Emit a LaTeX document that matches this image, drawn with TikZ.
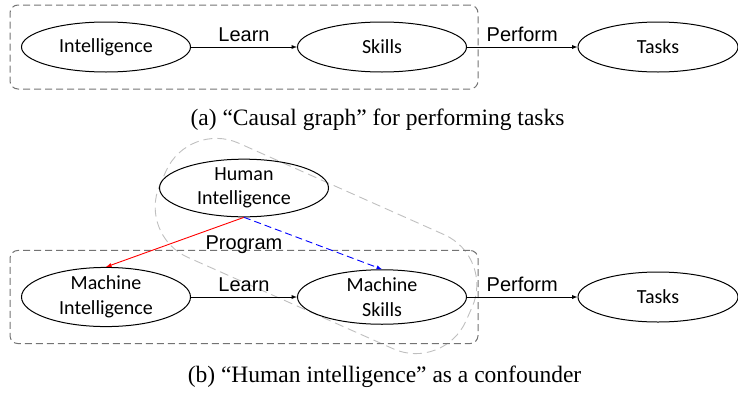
\documentclass[tikz,border=0pt]{standalone}
\usepackage{fontspec}
\setmainfont{Liberation Serif}
\newfontfamily\calibri{Carlito}
\newfontfamily\arial{Liberation Sans}
\usetikzlibrary{positioning,fit,shapes.geometric}

\tikzset{
  estilo grafo/.style={
      x=1pt, y=1pt,
      node distance=276pt,
      nodo/.style={ellipse, draw, line width=1pt, minimum width=169pt, minimum height=50pt,
          inner sep=0pt, align=center, font={\calibri\fontsize{20}{24.5}\selectfont}},
      causa/.style={-latex, line width=0.9pt},
      etiqueta/.style={inner sep=5pt, font={\arial\fontsize{20}{24}\selectfont}},
      grupo/.style={draw=black!55, line width=1pt, dash pattern=on 7pt off 4pt, rounded corners=8pt,
          inner xsep=11pt, inner ysep=16.5pt},
      confusor/.style={draw=black!25, line width=0.9pt, dash pattern=on 9pt off 5pt, rounded corners=55pt,
          minimum width=335pt, minimum height=125pt, rotate=-24},
      leyenda/.style={anchor=base, font={\fontsize{23.5}{28}\selectfont}},
    },
}

\begin{document}
\begin{tikzpicture}[estilo grafo]
  \useasboundingbox (0,0) rectangle (738,-394);

  % (a) intelligence -> skills -> tasks
  \node[nodo] (intel) at (106,-47) {Intelligence};
  \node[nodo, right of=intel] (hab) {Skills};
  \node[nodo, right of=hab, minimum width=160pt] (tareas) {Tasks};
  \node[grupo, fit=(intel)(hab)] (caja) {};

  \draw[causa] (intel) -- node[etiqueta, above] {Learn} (hab);
  \draw[causa] (hab) -- node[etiqueta, above] {Perform} (tareas);
  \node[leyenda] (cap a) at (377.5,-125) {(a) “Causal graph” for performing tasks};

  % (b) human intelligence as confounder
  \node[confusor] (conf) at (316,-246) {};
  \node[nodo] (humana) at (244,-188) {Human\\Intelligence};
  \node[nodo, below of=intel, node distance=250pt] (mintel) {Machine\\Intelligence};
  \node[nodo, right of=mintel] (mhab) {Machine\\Skills};
  \node[nodo, right of=mhab, minimum width=160pt] (mtareas) {Tasks};
  \node[grupo, fit=(mintel)(mhab)] (mcaja) {};
  \node[etiqueta, below=13pt of humana] (prog) {Program};

  \draw[causa, red] (humana.south) -- (mintel.north);
  \draw[causa, blue, dash pattern=on 7pt off 4pt] (humana.south) -- (mhab.north);
  \draw[causa] (mintel) -- node[etiqueta, above] {Learn} (mhab);
  \draw[causa] (mhab) -- node[etiqueta, above] {Perform} (mtareas);
  \node[leyenda] (cap b) at (384.5,-382) {(b) “Human intelligence” as a confounder};
\end{tikzpicture}
\end{document}
